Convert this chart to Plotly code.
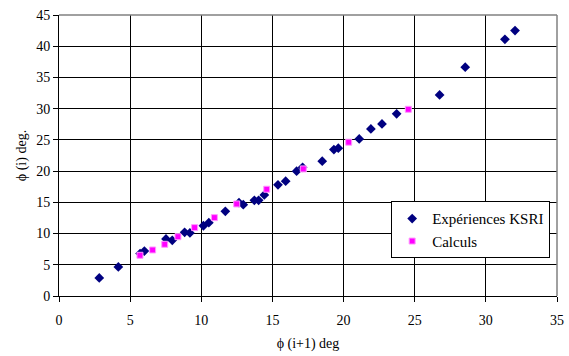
import plotly.graph_objects as go

exp_x = [2.83, 4.17, 5.7, 6.0, 7.52, 7.96, 8.83, 9.2, 10.15, 10.53, 11.69, 12.65, 12.95,
         13.73, 14.03, 14.43, 15.39, 15.93, 16.7, 17.12, 18.5, 19.32, 19.63, 21.1,
         21.92, 22.7, 23.73, 26.75, 28.55, 31.34, 32.05]
exp_y = [2.9, 4.65, 6.8, 7.2, 9.13, 8.92, 10.2, 10.1, 11.25, 11.75, 13.57, 14.95, 14.63,
         15.33, 15.33, 16.18, 17.8, 18.38, 19.98, 20.6, 21.58, 23.45, 23.67, 25.16,
         26.76, 27.56, 29.17, 32.2, 36.65, 41.1, 42.5]

calc_x = [5.69, 6.58, 7.43, 8.36, 9.53, 10.92, 12.49, 14.6, 17.17, 20.36, 24.55]
calc_y = [6.52, 7.37, 8.28, 9.5, 10.95, 12.55, 14.74, 17.1, 20.35, 24.63, 29.9]

x_ticks = [0, 5, 10, 15, 20, 25, 30, 35]
y_ticks = [0, 5, 10, 15, 20, 25, 30, 35, 40, 45]

font = "Liberation Serif, DejaVu Serif"

fig = go.Figure()
fig.add_trace(go.Scatter(x=exp_x, y=exp_y, mode="markers", name="Expériences KSRI",
                         marker=dict(symbol="diamond", size=7.5, color="#000080",
                                     line=dict(width=0))))
fig.add_trace(go.Scatter(x=calc_x, y=calc_y, mode="markers", name="Calculs",
                         marker=dict(symbol="square", size=6, color="#FF00FF",
                                     line=dict(width=1, color="#FF99FF"))))

fig.update_layout(
    width=569, height=356,
    margin=dict(l=59, r=12, t=15, b=60, autoexpand=False),
    paper_bgcolor="white", plot_bgcolor="white",
    font=dict(family=font, size=14, color="black"),
    showlegend=True,
    legend=dict(x=0.667, y=0.337, xanchor="left", yanchor="top",
                bgcolor="white", bordercolor="black", borderwidth=1,
                font=dict(family=font, size=15, color="black"), itemsizing="trace",
                tracegroupgap=2),
    shapes=[
        dict(type="line", xref="paper", yref="paper", x0=0, x1=1, y0=1, y1=1,
             line=dict(color="#808080", width=1.5), layer="above"),
        dict(type="line", xref="paper", yref="paper", x0=1, x1=1, y0=0, y1=1,
             line=dict(color="#808080", width=1.5), layer="above"),
    ],
)
fig.update_xaxes(range=[0, 35], tickvals=x_ticks, ticktext=[str(v) for v in x_ticks],
                 showgrid=True, gridcolor="black", gridwidth=1,
                 showline=True, linecolor="black", linewidth=1,
                 ticks="outside", ticklen=5, tickcolor="black", ticklabelstandoff=6,
                 zeroline=False, automargin=False,
                 title=dict(text="ϕ (i+1) deg", standoff=11, font=dict(family=font, size=14)),
                 tickfont=dict(family=font, size=14))
fig.update_yaxes(range=[0, 45], tickvals=y_ticks, ticktext=[str(v) for v in y_ticks],
                 showgrid=True, gridcolor="black", gridwidth=1,
                 showline=True, linecolor="black", linewidth=1,
                 ticks="outside", ticklen=5, tickcolor="black",
                 zeroline=False, automargin=False,
                 title=dict(text="ϕ (i) deg.", standoff=6, font=dict(family=font, size=14)),
                 tickfont=dict(family=font, size=14))

fig.write_html("out.html")
